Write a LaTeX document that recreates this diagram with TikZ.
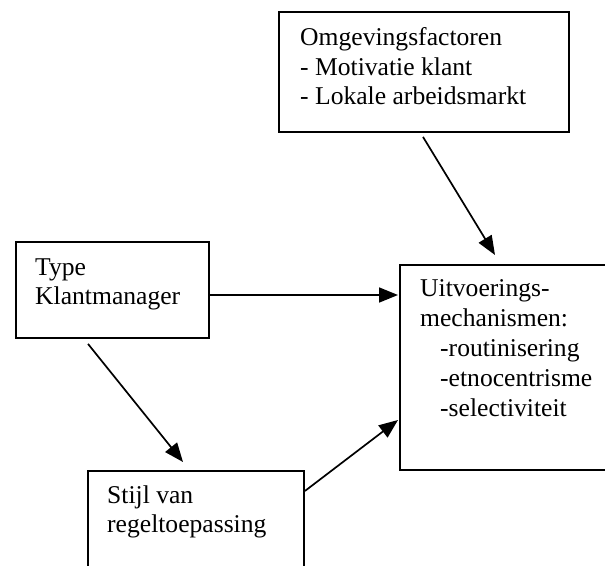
\documentclass[tikz,border=0pt]{standalone}
\usepackage{fontspec}
\setmainfont{Liberation Serif}
\usetikzlibrary{arrows.meta,calc}
\begin{document}
\begin{tikzpicture}[x=1pt,y=-1pt,
  box/.style={draw,line width=1.9pt,inner sep=0pt,anchor=north west},
  txt/.style={anchor=base west,inner sep=0pt,font=\fontsize{25.6}{29.5}\selectfont},
  link/.style={line width=1.7pt,-{Triangle[length=19pt,width=15pt]}}]
  \useasboundingbox (0,0) rectangle (605,565);
  \clip (0,0) rectangle (605,565);

  % boxes (the two lower-right ones run off the page edge)
  \node[box,minimum width=290pt,minimum height=120pt] (omg) at (278,11) {};
  \node[box,minimum width=193pt,minimum height=96pt]  (type) at (15,241) {};
  \node[box,minimum width=300pt,minimum height=205pt] (uitv) at (399,264) {};
  \node[box,minimum width=216pt,minimum height=140pt] (stijl) at (87,470) {};

  % box texts
  \node[txt] (omg1) at (300,45)  {Omgevingsfactoren};
  \node[txt] (omg2) at (300,75)  {- Motivatie klant};
  \node[txt] (omg3) at (300,104) {- Lokale arbeidsmarkt};

  \node[txt] (type1) at (35,275) {Type};
  \node[txt] (type2) at (35,304) {Klantmanager};

  \node[txt] (stijl1) at (107,503) {Stijl van};
  \node[txt] (stijl2) at (107,532) {regeltoepassing};

  \node[txt] (uitv1) at (420,296) {Uitvoerings-};
  \node[txt] (uitv2) at (420,326) {mechanismen:};
  \node[txt] (uitv3) at (440,356) {-routinisering};
  \node[txt] (uitv4) at (440,386) {-etnocentrisme};
  \node[txt] (uitv5) at (440,416) {-selectiviteit};

  % connector end points
  \coordinate (omgOut)   at ($(omg.south west)+(145,4)$);
  \coordinate (uitvTop)  at ($(uitv.north west)+(96,-9)$);
  \coordinate (typeOut)  at ($(type.north east)+(0,54)$);
  \coordinate (uitvLeft) at ($(uitv.north west)+(-1,31)$);
  \coordinate (typeDown) at ($(type.south west)+(73,5)$);
  \coordinate (stijlTop) at ($(stijl.north west)+(96,-8)$);
  \coordinate (stijlOut) at ($(stijl.north east)+(0,21)$);
  \coordinate (uitvLow)  at ($(uitv.north west)+(-1,156)$);

  % connectors
  \draw[link] (omgOut) -- (uitvTop);
  \draw[link] (typeOut) -- (uitvLeft);
  \draw[link] (typeDown) -- (stijlTop);
  \draw[link] (stijlOut) -- (uitvLow);
\end{tikzpicture}
\end{document}
